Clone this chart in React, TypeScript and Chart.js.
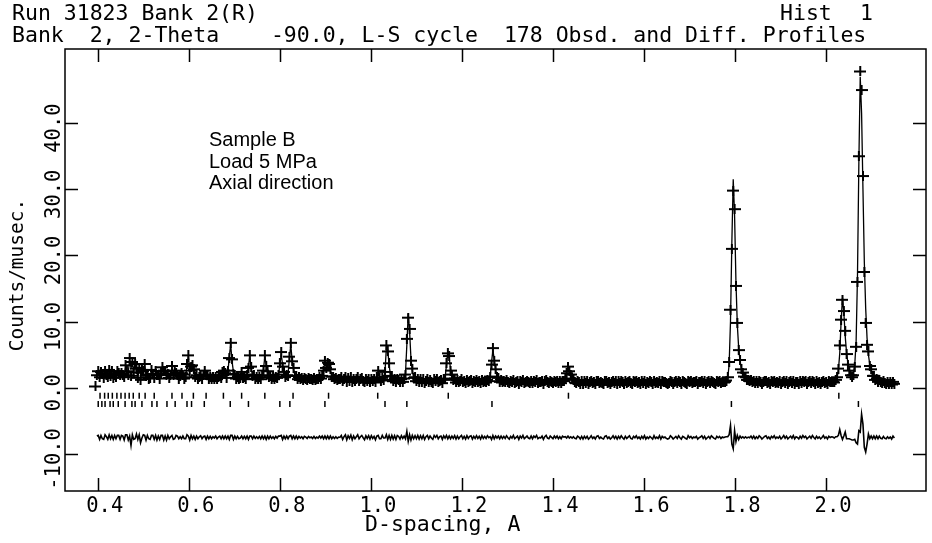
import { useEffect, useRef } from 'react';
import { Chart, registerables } from 'chart.js';

Chart.register(...registerables);

// ---- data ----
const D_START = 0.395;
const D_STEP = 0.003;

const obsCounts = [
  0.2, 1.9, 2.5, 1.6, 2.4, 2.1, 1.5, 2.6, 1.9, 1.7, 2.7, 1.8, 2.5, 1.5, 2.0, 1.6, 2.5, 2.3, 2.0, 2.2,
  1.9, 1.6, 3.4, 2.5, 1.9, 4.5, 1.8, 3.9, 2.3, 3.6, 2.9, 1.5, 3.0, 1.2, 2.7, 2.5, 3.6, 1.8, 2.0, 1.4,
  1.5, 2.7, 2.1, 1.5, 2.5, 1.9, 2.0, 1.4, 2.2, 3.1, 2.6, 2.5, 2.0, 2.1, 1.5, 1.9, 3.3, 2.0, 2.6, 2.3,
  1.9, 1.4, 1.8, 2.2, 2.0, 1.4, 1.6, 3.6, 4.9, 2.6, 3.2, 3.4, 2.8, 1.6, 1.9, 1.4, 1.7, 1.8, 1.4, 1.9,
  2.6, 2.0, 1.9, 1.4, 1.7, 1.3, 1.6, 1.4, 1.7, 1.3, 1.6, 1.8, 1.5, 2.4, 2.6, 2.2, 1.5, 2.6, 4.5, 6.8,
  4.3, 2.1, 2.0, 1.4, 1.7, 1.3, 1.5, 2.4, 1.5, 1.7, 1.3, 2.0, 3.0, 4.9, 3.2, 1.8, 1.9, 1.4, 1.6, 1.3,
  1.6, 1.3, 1.9, 2.6, 4.9, 3.3, 2.5, 1.6, 1.8, 1.4, 1.6, 1.3, 1.7, 1.5, 2.0, 3.7, 5.4, 3.2, 2.4, 1.6,
  1.9, 1.8, 4.7, 6.8, 4.0, 3.0, 1.8, 1.8, 1.3, 1.6, 1.3, 1.5, 1.2, 1.5, 1.4, 1.2, 1.5, 1.3, 1.4, 1.2,
  1.5, 1.2, 1.4, 1.3, 1.6, 1.4, 1.8, 2.6, 4.1, 3.0, 3.8, 3.6, 2.8, 1.7, 1.7, 1.3, 1.5, 1.2, 1.4, 1.3,
  1.6, 1.0, 1.4, 1.7, 0.9, 1.5, 1.1, 1.6, 0.9, 1.4, 1.0, 1.3, 1.6, 1.0, 1.3, 1.5, 1.1, 0.8, 1.4, 1.0,
  1.4, 0.9, 1.4, 1.0, 1.3, 0.8, 1.6, 2.6, 1.5, 1.1, 1.5, 1.2, 2.4, 6.4, 5.5, 3.7, 1.7, 1.8, 1.0, 1.4,
  0.8, 1.4, 1.2, 0.8, 1.3, 0.9, 1.4, 2.0, 7.4, 10.6, 8.9, 4.1, 2.9, 1.5, 1.6, 1.0, 1.4, 0.8, 1.3, 0.8,
  1.3, 0.7, 1.1, 1.3, 0.8, 1.2, 0.9, 0.7, 1.3, 1.0, 1.3, 0.8, 1.1, 1.2, 0.7, 1.3, 1.4, 3.7, 5.2, 4.8,
  2.6, 2.0, 1.2, 1.4, 0.8, 1.2, 0.8, 1.1, 1.3, 0.8, 1.1, 0.7, 1.2, 0.8, 1.1, 1.2, 0.7, 1.1, 0.8, 1.2,
  0.8, 1.1, 0.7, 1.2, 0.8, 1.1, 0.8, 1.2, 1.0, 1.7, 3.5, 6.0, 4.1, 2.8, 1.6, 1.5, 0.9, 1.2, 0.8, 1.1,
  0.8, 1.2, 0.9, 0.7, 1.1, 0.8, 1.2, 0.7, 0.9, 1.1, 0.6, 1.1, 0.8, 1.2, 0.7, 0.9, 1.1, 0.8, 0.7, 1.1,
  0.7, 1.1, 0.9, 1.2, 0.7, 0.9, 0.8, 1.1, 0.6, 1.0, 1.2, 0.8, 0.7, 1.1, 0.9, 0.7, 1.1, 0.8, 1.1, 0.7,
  1.0, 0.7, 1.1, 1.0, 1.4, 2.2, 3.2, 2.5, 2.0, 1.3, 1.2, 0.8, 0.7, 1.1, 0.9, 0.6, 1.0, 0.6, 1.0, 0.7,
  1.0, 0.6, 0.8, 1.1, 0.7, 0.9, 0.6, 1.0, 1.1, 0.7, 0.9, 0.7, 0.6, 1.0, 1.1, 0.7, 0.9, 0.6, 0.8, 1.1,
  0.7, 1.0, 0.6, 1.0, 0.7, 1.1, 0.8, 0.6, 1.0, 0.7, 0.9, 1.1, 0.7, 0.6, 1.0, 0.8, 1.1, 0.7, 0.9, 0.6,
  1.0, 0.7, 1.1, 0.6, 0.9, 0.7, 1.0, 0.8, 0.6, 1.1, 0.7, 0.9, 0.7, 1.1, 0.6, 1.0, 0.8, 0.9, 0.7, 0.6,
  0.7, 1.1, 0.9, 0.6, 0.8, 1.0, 0.7, 1.1, 0.8, 0.6, 1.0, 0.9, 0.7, 0.6, 1.1, 0.8, 1.0, 0.7, 0.9, 0.8,
  1.0, 0.6, 0.8, 0.9, 1.1, 0.7, 1.0, 0.6, 0.8, 1.0, 0.7, 1.1, 0.9, 0.7, 0.6, 1.0, 0.8, 1.0, 0.7, 0.9,
  0.8, 0.9, 1.1, 1.6, 3.9, 11.8, 21.0, 29.8, 27.0, 15.4, 9.8, 5.7, 4.2, 2.8, 2.3, 1.7, 1.6, 1.2, 1.2, 1.0,
  1.2, 0.8, 1.1, 0.7, 1.0, 0.7, 1.1, 0.9, 0.6, 0.8, 1.0, 1.1, 0.7, 0.9, 0.6, 1.0, 0.8, 1.1, 0.7, 0.9,
  0.7, 1.0, 0.6, 0.8, 1.1, 0.7, 1.0, 0.6, 0.8, 1.0, 0.7, 1.1, 0.6, 0.9, 0.8, 0.6, 1.0, 0.7, 1.1, 0.8,
  1.0, 0.6, 0.8, 1.0, 0.7, 1.1, 0.8, 0.6, 1.0, 0.7, 0.9, 0.6, 0.8, 1.1, 0.7, 0.9, 0.6, 1.0, 0.8, 0.9,
  0.9, 0.8, 1.2, 1.6, 2.9, 6.4, 10.3, 13.3, 11.6, 8.6, 5.1, 3.5, 2.6, 1.9, 1.6, 1.9, 3.2, 6.2, 16.0, 35.0,
  47.8, 45.0, 32.0, 17.5, 9.8, 6.5, 5.5, 3.3, 2.8, 1.8, 1.8, 1.2, 1.4, 0.9, 1.2, 0.8, 0.7, 1.0, 0.7, 0.6,
  0.9, 0.6, 0.8, 0.5, 0.9, 0.6,
];

const calcCounts = [
  null, 1.7, 2.2, 1.9, 2.1, 2.3, 1.8, 2.2, 1.8, 2.0, 2.3, 2.0, 2.2, 1.8, 1.7, 1.8, 2.2, 2.0, 2.3, 1.9,
  1.7, 2.0, 3.0, 2.1, 2.3, 4.3, 3.0, 3.5, 2.6, 3.8, 2.4, 1.8, 2.6, 2.0, 2.8, 2.1, 3.3, 2.2, 1.7, 1.6,
  1.8, 2.4, 1.8, 1.8, 2.2, 2.3, 1.8, 1.7, 1.9, 2.8, 3.0, 2.3, 2.4, 1.8, 1.7, 1.8, 3.0, 2.3, 2.8, 2.0,
  1.7, 1.6, 1.7, 2.4, 1.8, 1.6, 1.8, 3.2, 4.7, 3.0, 2.9, 3.6, 2.6, 1.9, 1.7, 1.6, 1.6, 1.55, 1.6, 1.8,
  2.4, 2.3, 1.7, 1.6, 1.55, 1.5, 1.5, 1.5, 1.5, 1.5, 1.55, 1.6, 1.7, 2.2, 2.8, 2.0, 1.7, 2.4, 4.8, 6.5,
  4.0, 2.4, 1.8, 1.6, 1.55, 1.5, 1.6, 2.2, 1.7, 1.55, 1.5, 1.8, 3.3, 4.7, 3.0, 2.0, 1.7, 1.55, 1.5, 1.45,
  1.45, 1.5, 1.7, 2.8, 4.7, 3.6, 2.3, 1.8, 1.6, 1.55, 1.5, 1.5, 1.55, 1.6, 1.8, 3.5, 5.1, 3.5, 2.2, 1.8,
  1.7, 2.0, 4.5, 6.5, 4.2, 2.8, 2.0, 1.6, 1.5, 1.45, 1.4, 1.4, 1.4, 1.35, 1.35, 1.35, 1.35, 1.35, 1.35, 1.35,
  1.35, 1.35, 1.35, 1.4, 1.4, 1.5, 1.6, 2.8, 3.9, 3.2, 3.6, 3.8, 2.6, 1.9, 1.6, 1.45, 1.4, 1.35, 1.35, 1.3,
  1.3, 1.3, 1.3, 1.3, 1.25, 1.25, 1.25, 1.25, 1.25, 1.2, 1.2, 1.2, 1.2, 1.2, 1.2, 1.2, 1.15, 1.15, 1.15, 1.15,
  1.15, 1.15, 1.15, 1.15, 1.15, 1.15, 1.4, 2.3, 1.7, 1.3, 1.2, 1.3, 2.5, 6.0, 5.8, 3.4, 2.0, 1.5, 1.25, 1.15,
  1.1, 1.1, 1.05, 1.05, 1.05, 1.05, 1.2, 2.2, 6.5, 11.2, 8.5, 4.5, 2.6, 1.7, 1.35, 1.2, 1.1, 1.05, 1.05, 1.0,
  1.0, 1.0, 1.0, 1.0, 1.0, 1.0, 1.0, 1.0, 1.0, 1.0, 1.0, 1.0, 1.0, 1.0, 1.0, 1.05, 1.5, 3.4, 5.4, 4.6,
  2.8, 1.8, 1.35, 1.15, 1.05, 1.0, 1.0, 1.0, 1.0, 1.0, 0.95, 0.95, 0.95, 0.95, 0.95, 0.95, 0.95, 0.95, 0.95, 0.95,
  0.95, 0.95, 0.95, 0.95, 0.95, 0.95, 0.95, 0.95, 1.05, 1.6, 3.8, 5.7, 4.3, 2.6, 1.7, 1.3, 1.1, 1.0, 0.95, 0.95,
  0.95, 0.95, 0.95, 0.95, 0.95, 0.9, 0.9, 0.9, 0.9, 0.9, 0.9, 0.9, 0.9, 0.9, 0.9, 0.9, 0.9, 0.9, 0.9, 0.9,
  0.9, 0.9, 0.9, 0.9, 0.9, 0.9, 0.9, 0.9, 0.9, 0.9, 0.9, 0.9, 0.9, 0.9, 0.9, 0.9, 0.9, 0.9, 0.9, 0.9,
  0.9, 0.9, 0.9, 0.95, 1.3, 2.3, 3.0, 2.6, 1.9, 1.4, 1.1, 0.95, 0.9, 0.9, 0.85, 0.85, 0.85, 0.85, 0.85, 0.85,
  0.85, 0.85, 0.85, 0.85, 0.85, 0.85, 0.85, 0.85, 0.85, 0.85, 0.85, 0.85, 0.85, 0.85, 0.85, 0.85, 0.85, 0.85, 0.85, 0.85,
  0.85, 0.85, 0.85, 0.85, 0.85, 0.85, 0.85, 0.85, 0.85, 0.85, 0.85, 0.85, 0.85, 0.85, 0.85, 0.85, 0.85, 0.85, 0.85, 0.85,
  0.85, 0.85, 0.85, 0.85, 0.85, 0.85, 0.85, 0.85, 0.85, 0.85, 0.85, 0.85, 0.85, 0.85, 0.85, 0.85, 0.85, 0.85, 0.85, 0.85,
  0.85, 0.85, 0.85, 0.85, 0.85, 0.85, 0.85, 0.85, 0.85, 0.85, 0.85, 0.85, 0.85, 0.85, 0.85, 0.85, 0.85, 0.85, 0.85, 0.85,
  0.85, 0.85, 0.85, 0.85, 0.85, 0.85, 0.85, 0.85, 0.85, 0.85, 0.85, 0.85, 0.85, 0.85, 0.85, 0.85, 0.85, 0.85, 0.85, 0.85,
  0.85, 0.85, 1.0, 1.5, 3.5, 10.0, 22.0, 31.5, 26.0, 16.0, 9.5, 6.0, 4.0, 2.9, 2.2, 1.8, 1.5, 1.3, 1.15, 1.05,
  1.0, 0.95, 0.9, 0.9, 0.9, 0.85, 0.85, 0.85, 0.85, 0.85, 0.85, 0.85, 0.85, 0.85, 0.85, 0.85, 0.85, 0.85, 0.85, 0.85,
  0.82, 0.82, 0.82, 0.82, 0.82, 0.82, 0.82, 0.82, 0.82, 0.82, 0.82, 0.82, 0.82, 0.82, 0.82, 0.82, 0.82, 0.82, 0.82, 0.82,
  0.82, 0.82, 0.82, 0.82, 0.82, 0.82, 0.82, 0.82, 0.82, 0.82, 0.82, 0.82, 0.82, 0.82, 0.82, 0.82, 0.82, 0.82, 0.82, 0.82,
  0.85, 0.9, 1.1, 1.5, 2.6, 5.2, 10.0, 13.6, 11.4, 7.8, 5.3, 3.7, 2.8, 2.2, 2.0, 2.3, 3.5, 7.0, 17.0, 34.0,
  47.0, 41.5, 30.0, 19.0, 12.0, 7.5, 5.0, 3.5, 2.6, 2.0, 1.6, 1.4, 1.2, 1.1, 1.0, 0.95, 0.9, 0.85, 0.85, 0.8,
  0.8, 0.75, 0.75, 0.75, 0.7, 0.7,
];

// reflection positions (d-spacing) for the two phases
const phase1Reflections = [
  0.405, 0.415, 0.423, 0.432, 0.442, 0.451, 0.460, 0.469, 0.478, 0.491, 0.504, 0.524, 0.563,
  0.585, 0.610, 0.638, 0.676, 0.716, 0.767, 0.829, 0.907, 1.015, 1.170, 1.434, 2.028,
];
const phase2Reflections = [
  0.401, 0.409, 0.416, 0.427, 0.434, 0.445, 0.460, 0.475, 0.482, 0.497, 0.519, 0.530, 0.552,
  0.570, 0.596, 0.606, 0.634, 0.691, 0.731, 0.800, 0.822, 0.899, 1.031, 1.079, 1.266, 1.792, 2.071,
];
const PHASE1_LEVEL = -1.2;
const PHASE2_LEVEL = -2.45;
const DIFF_OFFSET = -7.5;

const xTickValues = [0.4, 0.6, 0.8, 1.0, 1.2, 1.4, 1.6, 1.8, 2.0];
const xTickLabels = ['0.4', '0.6', '0.8', '1.0', '1.2', '1.4', '1.6', '1.8', '2.0'];
const yTickValues = [-10, 0, 10, 20, 30, 40];
const yTickLabels = ['-10.0', '0.0', '10.0', '20.0', '30.0', '40.0'];

const X_MIN = 0.328;
const X_MAX = 2.2195;
const Y_MIN = -15.6;
const Y_MAX = 51.2;

const titleLine1 = 'Run 31823 Bank 2(R)';
const histWord = 'Hist';
const histNumber = '1';
const titleLine2 = 'Bank  2, 2-Theta    -90.0, L-S cycle  178 Obsd. and Diff. Profiles';
const sampleNotes = ['Sample B', 'Load 5 MPa', 'Axial direction'];
const xTitle = 'D-spacing, A';
const yTitle = 'Counts/musec.';

const MONO = '"DejaVu Sans Mono", "Liberation Mono", monospace';

function makePlusMarker() {
  const c = document.createElement('canvas');
  c.width = 12;
  c.height = 10;
  const g = c.getContext('2d')!;
  g.fillStyle = '#000';
  g.fillRect(0, 4, 12, 2);
  g.fillRect(5, 0, 2, 10);
  return c;
}

const framePlugin = {
  id: 'gsasFrame',
  afterDraw(chart: any) {
    const { ctx, chartArea: a, scales } = chart;
    const xs = scales.x;
    const ys = scales.y;
    ctx.save();
    ctx.strokeStyle = '#000';
    ctx.fillStyle = '#000';
    ctx.lineWidth = 1.5;
    ctx.strokeRect(a.left, a.top, a.right - a.left, a.bottom - a.top);

    const TL = 13;
    ctx.beginPath();
    xTickValues.forEach((v) => {
      const px = Math.round(xs.getPixelForValue(v)) + 0.5;
      ctx.moveTo(px, a.bottom);
      ctx.lineTo(px, a.bottom - TL);
      ctx.moveTo(px, a.top);
      ctx.lineTo(px, a.top + TL);
    });
    yTickValues.forEach((v) => {
      const py = Math.round(ys.getPixelForValue(v)) + 0.5;
      ctx.moveTo(a.left, py);
      ctx.lineTo(a.left + TL, py);
      ctx.moveTo(a.right, py);
      ctx.lineTo(a.right - TL, py);
    });
    ctx.stroke();

    // x tick labels
    ctx.font = '20.5px ' + MONO;
    ctx.textAlign = 'center';
    ctx.textBaseline = 'alphabetic';
    xTickValues.forEach((v, i) => {
      ctx.fillText(xTickLabels[i], xs.getPixelForValue(v) + 7, a.bottom + 21);
    });
    // y tick labels (rotated)
    yTickValues.forEach((v, i) => {
      ctx.save();
      ctx.translate(a.left - 5, ys.getPixelForValue(v) + 5);
      ctx.rotate(-Math.PI / 2);
      ctx.fillText(yTickLabels[i], 0, 0);
      ctx.restore();
    });

    // axis titles
    ctx.textAlign = 'left';
    ctx.font = '21.5px ' + MONO;
    ctx.fillText(xTitle, 365, a.bottom + 40);
    ctx.save();
    ctx.translate(23, (a.top + a.bottom) / 2 + 5);
    ctx.rotate(-Math.PI / 2);
    ctx.textAlign = 'center';
    ctx.font = '19.5px ' + MONO;
    ctx.fillText(yTitle, 0, 0);
    ctx.restore();

    // header
    ctx.textAlign = 'left';
    ctx.font = '21.5px ' + MONO;
    ctx.fillText(titleLine1, 12, 20);
    ctx.fillText(histWord, 780, 20);
    ctx.fillText(histNumber, 860, 20);
    ctx.fillText(titleLine2, 12, 42);

    // annotation
    ctx.font = '20px "Liberation Sans", Arial, sans-serif';
    sampleNotes.forEach((t, i) => {
      ctx.fillText(t, 209, 146 + i * 21.5);
    });
    ctx.restore();
  },
};

export default function App() {
  const ref = useRef<HTMLCanvasElement>(null);

  useEffect(() => {
    if (!ref.current) return;
    const plus = makePlusMarker();

    const obsPts = obsCounts.map((v, i) => ({ x: D_START + D_STEP * i, y: v }));
    const calcPts = calcCounts.map((v, i) => ({ x: D_START + D_STEP * i, y: v }));
    const diffPts = obsCounts
      .map((v, i) => ({ x: D_START + D_STEP * i, y: calcCounts[i] == null ? null : v - (calcCounts[i] as number) + DIFF_OFFSET }))
      .filter((p) => p.y !== null);
    const p1 = phase1Reflections.map((d) => ({ x: d, y: PHASE1_LEVEL }));
    const p2 = phase2Reflections.map((d) => ({ x: d, y: PHASE2_LEVEL }));

    const chart = new Chart(ref.current, {
      type: 'scatter',
      data: {
        datasets: [
          {
            label: 'Obsd',
            data: obsPts,
            showLine: false,
            pointStyle: plus as any,
            pointRadius: 5,
            borderColor: '#000',
            backgroundColor: '#000',
          },
          {
            label: 'Calc',
            data: calcPts as any,
            showLine: true,
            borderColor: '#000',
            borderWidth: 1.3,
            pointRadius: 0,
            tension: 0,
            spanGaps: false,
          },
          {
            label: 'Diff',
            data: diffPts as any,
            showLine: true,
            borderColor: '#000',
            borderWidth: 1.6,
            pointRadius: 0,
            tension: 0,
          },
          {
            label: 'Phase 1',
            data: p1,
            showLine: false,
            pointStyle: 'line',
            rotation: 90,
            pointRadius: 3,
            borderWidth: 1.5,
            borderColor: '#000',
          },
          {
            label: 'Phase 2',
            data: p2,
            showLine: false,
            pointStyle: 'line',
            rotation: 90,
            pointRadius: 3,
            borderWidth: 1.5,
            borderColor: '#000',
          },
        ],
      },
      options: {
        animation: false,
        responsive: false,
        devicePixelRatio: 1,
        events: [],
        layout: { padding: { left: 65, right: 6, top: 49, bottom: 52 } },
        plugins: { legend: { display: false }, tooltip: { enabled: false } },
        scales: {
          x: { type: 'linear', display: false, min: X_MIN, max: X_MAX },
          y: { type: 'linear', display: false, min: Y_MIN, max: Y_MAX },
        },
      },
      plugins: [framePlugin],
    });
    return () => chart.destroy();
  }, []);

  return (
    <div style={{ position: 'fixed', left: 0, top: 0, width: 932, height: 543, background: '#fff' }}>
      <canvas ref={ref} width={932} height={543} style={{ display: 'block', width: 932, height: 543 }} />
    </div>
  );
}
